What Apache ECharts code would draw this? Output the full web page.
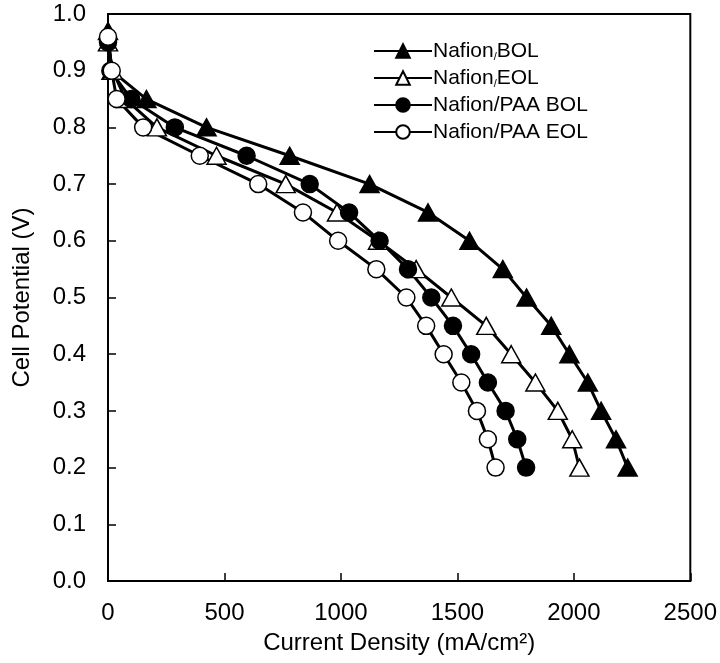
<!DOCTYPE html>
<html>
<head>
<meta charset="utf-8">
<script src="https://cdn.jsdelivr.net/npm/echarts@6/dist/echarts.min.js"></script>
<style>
  html, body { margin: 0; padding: 0; background: #fff; }
  #chart { width: 720px; height: 663px; }
</style>
</head>
<body>
<div id="chart"></div>
<script>
// Polarization curves: cell potential vs current density
const potential = [0.9, 0.85, 0.8, 0.75, 0.7, 0.65, 0.6, 0.55, 0.5, 0.45, 0.4, 0.35, 0.3, 0.25, 0.2];

const nafionBolOcv = 0.97;
const nafionBolCurrent = [15, 165, 423, 780, 1123, 1374, 1552, 1695, 1797, 1903, 1981, 2060, 2117, 2181, 2231];

const nafionEolOcv = 0.95;
const nafionEolCurrent = [20, 75, 210, 466, 763, 983, 1159, 1323, 1474, 1624, 1731, 1835, 1931, 1993, 2024];

const paaBolOcv = 0.95;
const paaBolCurrent = [10, 100, 287, 595, 866, 1035, 1166, 1288, 1388, 1481, 1559, 1631, 1707, 1757, 1795];

const paaEolOcv = 0.96;
const paaEolCurrent = [16, 37, 151, 394, 645, 837, 988, 1152, 1281, 1366, 1441, 1517, 1584, 1631, 1664];

const seriesNames = ['Nafion/BOL', 'Nafion/EOL', 'Nafion/PAA BOL', 'Nafion/PAA EOL'];

const xTicks = { min: 0, max: 2500, interval: 500 };
const yTicks = { min: 0, max: 1.0, interval: 0.1 };

function curve(ocv, currents) {
  const pts = [[0, ocv]];
  currents.forEach((c, i) => pts.push([c, potential[i]]));
  return pts;
}

const FONT = 'Liberation Sans, Arial, sans-serif';

function makeSeries(name, data, symbol, filled, size) {
  return {
    name: name,
    type: 'line',
    data: data,
    symbol: symbol,
    symbolSize: size,
    showAllSymbol: true,
    lineStyle: { color: '#000', width: 3 },
    itemStyle: {
      color: filled ? '#000' : '#fff',
      borderColor: '#000',
      borderWidth: 1.5
    },
    emphasis: { disabled: true },
    animation: false
  };
}

const chart = echarts.init(document.getElementById('chart'), null, { renderer: 'canvas' });

chart.setOption({
  backgroundColor: '#fff',
  animation: false,
  grid: {
    left: 108, right: 29, top: 14, bottom: 82,
    show: true, borderColor: '#000', borderWidth: 2, backgroundColor: 'transparent'
  },
  legend: {
    orient: 'vertical',
    left: 368,
    top: 35,
    itemWidth: 58,
    itemHeight: 17,
    itemGap: 5,
    data: seriesNames,
    textStyle: {
      fontFamily: FONT, fontSize: 21, lineHeight: 22, color: '#000', padding: [0, 0, 0, -4],
      rich: {
        s: { fontFamily: FONT, fontSize: 11, color: '#000', verticalAlign: 'bottom' }
      }
    },
    formatter: function (name) {
      if (name === 'Nafion/BOL') return 'Nafion{s|/}BOL';
      if (name === 'Nafion/EOL') return 'Nafion{s|/}EOL';
      return name;
    }
  },
  xAxis: {
    type: 'value',
    min: xTicks.min, max: xTicks.max, interval: xTicks.interval,
    name: 'Current Density (mA/cm²)',
    nameLocation: 'middle',
    nameGap: 50,
    nameTextStyle: { fontFamily: FONT, fontSize: 24, color: '#000' },
    axisLine: { lineStyle: { color: '#000', width: 2 } },
    axisTick: { inside: true, length: 8, lineStyle: { color: '#000', width: 1.5 } },
    axisLabel: {
      fontFamily: FONT, fontSize: 24, color: '#000', margin: 20,
      formatter: v => String(v)
    },
    splitLine: { show: false }
  },
  yAxis: {
    type: 'value',
    min: yTicks.min, max: yTicks.max, interval: yTicks.interval,
    name: 'Cell Potential (V)',
    nameLocation: 'middle',
    nameGap: 74,
    nameTextStyle: { fontFamily: FONT, fontSize: 24, color: '#000' },
    axisLine: { lineStyle: { color: '#000', width: 2 } },
    axisTick: { inside: true, length: 8, lineStyle: { color: '#000', width: 1.5 } },
    axisLabel: {
      fontFamily: FONT, fontSize: 24, color: '#000', margin: 22,
      formatter: v => v.toFixed(1)
    },
    splitLine: { show: false }
  },
  series: [
    makeSeries(seriesNames[0], curve(nafionBolOcv, nafionBolCurrent), 'triangle', true, [19, 17]),
    makeSeries(seriesNames[1], curve(nafionEolOcv, nafionEolCurrent), 'triangle', false, [19, 17]),
    makeSeries(seriesNames[2], curve(paaBolOcv, paaBolCurrent), 'circle', true, 17),
    makeSeries(seriesNames[3], curve(paaEolOcv, paaEolCurrent), 'circle', false, 17)
  ]
});
</script>
</body>
</html>
